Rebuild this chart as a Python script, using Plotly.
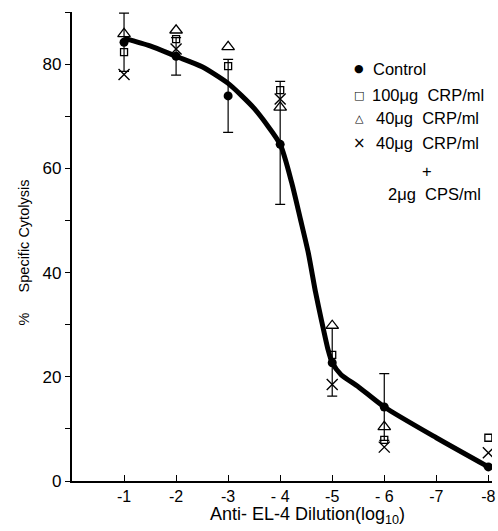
import plotly.graph_objects as go

# ---- data ----
dilution = [-1, -2, -3, -4, -5, -6, -8]
control = [84.2, 81.5, 73.9, 64.6, 22.7, 14.2, 2.7]
control_err_plus = [5.6, 3.6, 7.0, 12.1, 6.6, 6.4, None]
control_err_minus = [5.6, 3.6, 7.0, 11.5, 6.4, 6.4, None]

crp100_x = [-1, -2, -3, -4, -5, -6, -8]
crp100 = [82.3, 84.8, 79.6, 75.0, 24.2, 7.9, 8.3]

crp40_x = [-1, -2, -3, -4, -5, -6]
crp40 = [85.8, 86.5, 83.3, 71.7, 29.8, 10.4]

crp40cps_x = [-1, -2, -4, -5, -6, -8]
crp40cps = [78.0, 82.9, 73.3, 18.5, 6.5, 5.4]

curve_x = [-1, -1.5, -2, -2.5, -3, -3.5, -4, -4.22, -4.39, -4.54, -4.68, -4.79, -4.92, -5, -5.17, -5.5, -6, -7, -8]
curve_y = [85.0, 83.5, 81.5, 79.5, 76.3, 71.5, 64.6, 57.3, 50.2, 43.8, 36.2, 31.0, 25.2, 22.7, 20.4, 18.1, 14.2, 8.3, 2.7]

y_tickvals = [0, 20, 40, 60, 80]
y_ticktext = ["0", "20", "40", "60", "80"]
y_minorvals = [10, 30, 50, 70, 90]
x_tickvals = [-1, -2, -3, -4, -5, -6, -7, -8]
x_ticktext = ["-1", "-2", "-3", "- 4", "-5", "- 6", "-7", "-8"]

legend_symbols = ["●", "□", "△", "×"]
legend_labels = ["Control", "100μg  CRP/ml", "40μg  CRP/ml", "40μg  CRP/ml"]

FONT = "Liberation Sans, Arial, sans-serif"
W, H = 498, 531
L, R, T, B = 72, 2, 12, 50
PW, PH = W - L - R, H - T - B


def px2paper(px, py):
    """screen pixel -> paper coords"""
    return (px - L) / PW, (H - B - py) / PH


fig = go.Figure()

# fitted curve
fig.add_trace(go.Scatter(x=curve_x, y=curve_y, mode="lines",
                         line=dict(color="black", width=5, shape="spline", smoothing=0.6),
                         hoverinfo="skip", showlegend=False))

# control with error bars
fig.add_trace(go.Scatter(x=dilution, y=control, mode="markers",
                         marker=dict(symbol="circle", size=9, color="black"),
                         error_y=dict(type="data", array=control_err_plus, arrayminus=control_err_minus,
                                      symmetric=False, color="black", thickness=1.2, width=5),
                         showlegend=False))

fig.add_trace(go.Scatter(x=crp100_x, y=crp100, mode="markers",
                         marker=dict(symbol="square-open", size=7, color="black", line=dict(width=1.3)),
                         showlegend=False))

fig.add_trace(go.Scatter(x=crp40_x, y=crp40, mode="markers",
                         marker=dict(symbol="triangle-up-open", size=11, color="black", line=dict(width=1.3)),
                         showlegend=False))

fig.add_trace(go.Scatter(x=crp40cps_x, y=crp40cps, mode="markers",
                         marker=dict(symbol="x-thin-open", size=11, color="black", line=dict(width=1.4)),
                         showlegend=False))

annotations = []
rows_y = [69, 95, 118, 143]
label_x = [374, 373, 377, 377]
for sym, lab, py, lx in zip(legend_symbols, legend_labels, rows_y, label_x):
    sx, sy = px2paper(362, py)
    annotations.append(dict(x=sx, y=sy, xref="paper", yref="paper", text=sym, showarrow=False,
                            xanchor="center", yanchor="middle",
                            font=dict(family="DejaVu Sans", size=11 if sym != "×" else 15, color="black")))
    tx, ty = px2paper(lx, py)
    annotations.append(dict(x=tx, y=ty, xref="paper", yref="paper", text=lab, showarrow=False,
                            xanchor="left", yanchor="middle",
                            font=dict(family=FONT, size=16.5, color="black")))
px_, py_ = px2paper(430, 171)
annotations.append(dict(x=px_, y=py_, xref="paper", yref="paper", text="+", showarrow=False,
                        xanchor="center", yanchor="middle", font=dict(family=FONT, size=16.5, color="black")))
px_, py_ = px2paper(389, 194)
annotations.append(dict(x=px_, y=py_, xref="paper", yref="paper", text="2μg  CPS/ml", showarrow=False,
                        xanchor="left", yanchor="middle", font=dict(family=FONT, size=16.5, color="black")))
# axis titles
px_, py_ = px2paper(310, 515)
annotations.append(dict(x=px_, y=py_, xref="paper", yref="paper",
                        text="Anti- EL-4 Dilution(log<sub>10</sub>)", showarrow=False,
                        xanchor="center", yanchor="middle", font=dict(family=FONT, size=18, color="black")))
px_, py_ = px2paper(24, 252)
annotations.append(dict(x=px_, y=py_, xref="paper", yref="paper",
                        text="%\u00a0\u00a0\u00a0\u00a0 Specific Cytolysis", showarrow=False, textangle=-90,
                        xanchor="center", yanchor="middle", font=dict(family=FONT, size=14.5, color="black")))

fig.update_layout(
    width=W, height=H,
    margin=dict(l=L, r=R, t=T, b=B, pad=0),
    plot_bgcolor="white", paper_bgcolor="white",
    font=dict(family=FONT, color="black"),
    annotations=annotations,
    showlegend=False,
)
fig.update_xaxes(range=[0, -8.07], tickvals=x_tickvals, ticktext=x_ticktext,
                 ticks="inside", ticklen=6, tickwidth=1.3, tickcolor="black",
                 showline=True, linecolor="black", linewidth=2, showgrid=False, zeroline=False,
                 ticklabeloverflow="allow",
                 tickfont=dict(family=FONT, size=16, color="black"))
fig.update_yaxes(range=[0, 90], tickvals=y_tickvals, ticktext=y_ticktext,
                 ticks="outside", ticklen=5, tickwidth=1.3, tickcolor="black",
                 minor=dict(tickvals=y_minorvals, ticks="outside", ticklen=5, tickwidth=1.3,
                            tickcolor="black", showgrid=False),
                 showline=True, linecolor="black", linewidth=2.2, showgrid=False, zeroline=False,
                 tickfont=dict(family=FONT, size=17, color="black"))

fig.write_html("out.html", config={"displayModeBar": False},
               post_script="document.body.style.margin='0';document.body.style.overflow='hidden';")
